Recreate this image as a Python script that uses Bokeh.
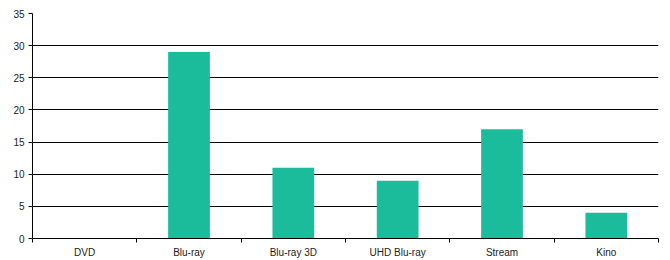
from bokeh.plotting import figure
from bokeh.models import FixedTicker, Range1d, ColumnDataSource
from bokeh.embed import file_html
from bokeh.resources import INLINE

categories = ["DVD", "Blu-ray", "Blu-ray 3D", "UHD Blu-ray", "Stream", "Kino"]
values = [0, 29, 11, 9, 17, 4]
y_ticks = [0, 5, 10, 15, 20, 25, 30, 35]

xs = [i + 0.5 for i in range(len(categories))]
src = ColumnDataSource(dict(x=xs, top=values, cat=categories))

p = figure(width=670, height=260, output_backend="svg", toolbar_location=None,
           x_range=Range1d(0, len(categories)), y_range=Range1d(0, 35),
           min_border_left=32, min_border_right=12, min_border_top=13, min_border_bottom=21)
p.outline_line_color = None
p.background_fill_color = "white"
p.border_fill_color = "white"

p.vbar(x="x", top="top", width=0.4, bottom=0, source=src, fill_color="#1ABC9C", line_color=None)

p.xgrid.visible = False
p.ygrid.grid_line_color = "black"
p.ygrid.grid_line_width = 1
p.ygrid.ticker = FixedTicker(ticks=y_ticks)

xa = p.xaxis[0]
xa.ticker = FixedTicker(ticks=xs, minor_ticks=list(range(len(categories) + 1)))
xa.major_label_overrides = {x: c for x, c in zip(xs, categories)}
xa.major_tick_out = 0
xa.major_tick_in = 0
xa.minor_tick_out = 4
xa.minor_tick_in = 0
xa.minor_tick_line_color = "black"
xa.axis_line_color = "black"
xa.major_label_text_font = "Liberation Sans"
xa.major_label_text_font_size = "10px"
xa.major_label_text_color = "#222222"
xa.major_label_standoff = 4

ya = p.yaxis[0]
ya.ticker = FixedTicker(ticks=y_ticks)
ya.major_tick_out = 4
ya.major_tick_in = 0
ya.minor_tick_line_color = None
ya.axis_line_color = "black"
ya.major_tick_line_color = "black"
ya.major_label_text_font = "Liberation Sans"
ya.major_label_text_font_size = "10px"
ya.major_label_text_color = "#222222"
ya.major_label_standoff = 4

open("out.html", "w").write(file_html(p, INLINE))
